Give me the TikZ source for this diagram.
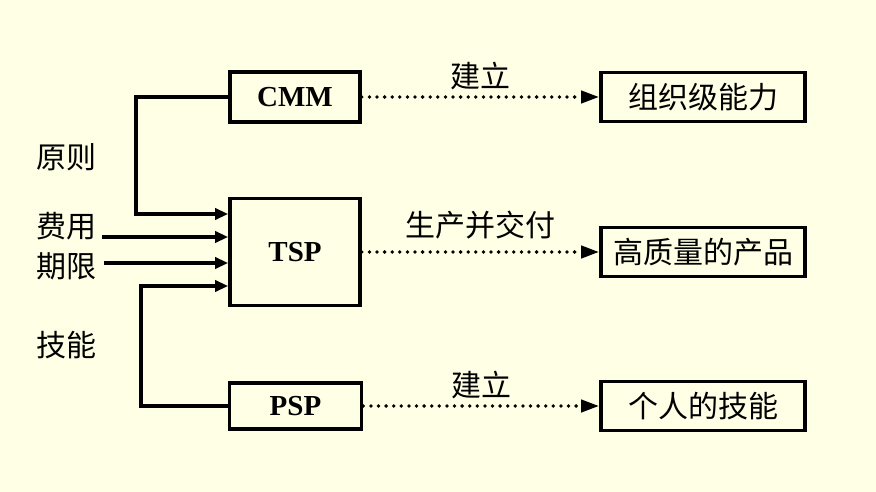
\documentclass[tikz,border=0pt]{standalone}
\usepackage{fontspec}
\setmainfont{Liberation Serif}
\newfontfamily\cjk{Noto Sans CJK SC}
\usetikzlibrary{arrows.meta}
\definecolor{paper}{RGB}{255,255,230}
\tikzset{
	box/.style={draw, line width=3.6pt, inner sep=0pt, font=\fontsize{29}{31}\selectfont\bfseries},
	outbox/.style={draw, line width=3.6pt, inner sep=0pt, minimum width=204pt, minimum height=49pt, font=\cjk\fontsize{30}{32}\selectfont},
	lab/.style={font=\cjk\fontsize{30}{32}\selectfont, inner sep=0pt},
	feed/.style={line width=3.8pt, -{Triangle[length=13pt,width=11pt]}},
	dotarrow/.style={line width=3.8pt, line cap=round, dash pattern=on 0pt off 7.6pt, -{Triangle[length=18pt,width=12pt]}}
}
\begin{document}
\begin{tikzpicture}[x=1pt, y=-1pt]

	\fill[paper] (0,0) rectangle (876,492);
	\useasboundingbox (0,0) rectangle (876,492);

	% middle column
	\node[box, minimum width=130pt, minimum height=50pt] (cmm) at (295,97) {CMM};
	\node[box, minimum width=130pt, minimum height=107pt] (tsp) at (295,252) {TSP};
	\node[box, minimum width=132pt, minimum height=46pt] (psp) at (295.5,406) {PSP};

	% right column
	\node[outbox] (org) at (703,97) {组织级能力};
	\node[outbox] (prod) at (703,252) {高质量的产品};
	\node[outbox] (skill) at (703,406) {个人的技能};

	% left labels
	\node[lab] (rule) at (66,157) {原则};
	\node[lab] (cost) at (66,226) {费用};
	\node[lab] (time) at (66,266) {期限};
	\node[lab] (tech) at (66,345) {技能};

	\coordinate (costin) at (102,237);
	\coordinate (timein) at (104,263);

	% inputs to TSP
	\draw[feed] (cmm.west) -- ++(-92,0) |- ([yshift=38pt]tsp.west);
	\draw[feed] (costin) -- (costin -| tsp.west);
	\draw[feed] (timein) -- (timein -| tsp.west);
	\draw[feed] (psp.west) -- ++(-87,0) |- ([yshift=-34pt]tsp.west);

	% outputs
	\draw[dotarrow] (cmm.east) -- (org.west) node[lab, midway, above=5pt] (build1) {建立};
	\draw[dotarrow] (tsp.east) -- (prod.west) node[lab, midway, above=11pt] (deliver) {生产并交付};
	\draw[dotarrow] (psp.east) -- (skill.west) node[lab, midway, above=5pt] (build2) {建立};

\end{tikzpicture}
\end{document}
